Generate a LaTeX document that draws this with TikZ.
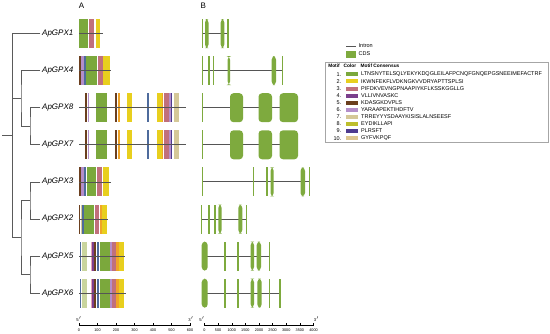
\documentclass[tikz,border=0pt]{standalone}
\usepackage{fontspec}
\setmainfont{Liberation Sans}
\definecolor{mA}{HTML}{7BA83C}
\definecolor{mB}{HTML}{E8CF1E}
\definecolor{mC}{HTML}{C0707C}
\definecolor{mD}{HTML}{7B3F8C}
\definecolor{mE}{HTML}{6B3F1E}
\definecolor{mF}{HTML}{B48ECA}
\definecolor{mG}{HTML}{D5C898}
\definecolor{mH}{HTML}{BDBE2C}
\definecolor{mI}{HTML}{4E3B8E}
\definecolor{mJ}{HTML}{DDC68F}
\definecolor{slate}{HTML}{4E6B9C}
\definecolor{orng}{HTML}{F0A428}
\definecolor{pale}{HTML}{C9D59E}
\definecolor{pinkl}{HTML}{E3A3B5}
\definecolor{exonc}{HTML}{7EAA3E}
\definecolor{linec}{HTML}{555555}
\definecolor{treec}{HTML}{5A5A5A}
\newcommand\mt[4]{\fill[#1] ({#2},{#4-14.5}) rectangle ({#3},{#4+14.5});}
\newcommand\pl[3]{\draw[prot] ({#1},{#3}) -- ({#2},{#3});}
\newcommand\ex[3]{\fill[exonc] ({#1},{#3-14.5}) rectangle ({#2},{#3+14.5});}
\newcommand\exr[3]{\fill[exonc,rounded corners=3.5pt] ({#1},{#3-14.5}) rectangle ({#2},{#3+14.5});}
\newcommand\intr[3]{\draw[introncol] ({#1},{#3}) -- ({#2},{#3});}
\begin{document}
\begin{tikzpicture}[x=1pt,y=-1pt,
  lbl/.style={font=\fontsize{8}{9}\selectfont\itshape, anchor=east, inner sep=0pt},
  head/.style={font=\fontsize{8}{9}\selectfont, inner sep=0pt},
  tree/.style={draw=treec, line width=0.7pt},
  prot/.style={draw=linec, line width=0.8pt},
  introncol/.style={draw=linec, line width=0.9pt},
  axisline/.style={draw=black, line width=0.5pt},
  ticklbl/.style={font=\fontsize{3.8}{4}\selectfont, inner sep=0pt},
  endlbl/.style={font=\fontsize{4.2}{4.5}\selectfont, inner sep=0pt},
  legtxt/.style={font=\fontsize{5.5}{6}\selectfont, inner sep=0pt, anchor=west},
  leghead/.style={font=\fontsize{4.8}{5}\selectfont\bfseries, inner sep=0pt},
  legnum/.style={font=\fontsize{5.5}{6}\selectfont, inner sep=0pt, anchor=east}]
\useasboundingbox[fill=white] (0,0) rectangle (550,333);

% headings
\node[head] (hA) at (81.5,5.5) {A};
\node[head] (hB) at (203.3,5.8) {B};

% gene labels
\node[lbl] (g1) at (73.5,33.5) {ApGPX1};
\node[lbl] (g4) at (73.5,70.6) {ApGPX4};
\node[lbl] (g8) at (73.5,107.7) {ApGPX8};
\node[lbl] (g7) at (73.5,144.8) {ApGPX7};
\node[lbl] (g3) at (73.5,181.9) {ApGPX3};
\node[lbl] (g2) at (73.5,219) {ApGPX2};
\node[lbl] (g5) at (73.5,256.1) {ApGPX5};
\node[lbl] (g6) at (73.5,293.2) {ApGPX6};

% tree
\coordinate (n87) at (30,126.25);
\coordinate (n4) at (21,98.4);
\coordinate (n32) at (30,200.45);
\coordinate (n56) at (30,274.65);
\coordinate (nb) at (21,237.55);
\coordinate (rt) at (2,135.5);
\coordinate (rj) at (12,135.5);
\coordinate (tj) at (12,98.4);
\draw[tree] ([xshift=-1.5pt]g8.west) -| (n87) |- ([xshift=-1.5pt]g7.west);
\draw[tree] ([xshift=-1.5pt]g4.west) -| (n4) |- (n87);
\draw[tree] ([xshift=-1.5pt]g1.west) -| (12,237.55) -- (nb);
\draw[tree] (tj) -- (n4);
\draw[tree] ([xshift=-1.5pt]g3.west) -| (n32) |- ([xshift=-1.5pt]g2.west);
\draw[tree] ([xshift=-1.5pt]g5.west) -| (n56) |- ([xshift=-1.5pt]g6.west);
\draw[tree] (n32) -| (nb) |- (n56);
\draw[tree] (rt) -- (rj);

% ---------- Panel A: motifs ----------
% GPX1
\mt{mA}{79}{88}{33.5} \mt{mC}{89}{94.3}{33.5} \mt{mB}{95.7}{100}{33.5}
\pl{79}{103.3}{33.5}
% GPX4
\mt{mE}{79}{80.5}{70.6} \mt{mF}{81}{83.5}{70.6} \mt{slate}{84}{85.5}{70.6}
\mt{mA}{86}{96.5}{70.6} \mt{mC}{97.5}{102.5}{70.6} \mt{mB}{103}{110}{70.6}
\pl{79}{111}{70.6}
% GPX8 and GPX7
\foreach \yy in {107.7,144.8}{
  \mt{mE}{85}{86.7}{\yy} \mt{mF}{87.7}{89}{\yy} \mt{mA}{96.3}{106.7}{\yy}
  \mt{mE}{115}{116.7}{\yy} \mt{orng}{118.3}{120}{\yy} \mt{mB}{126.7}{131.7}{\yy}
  \mt{slate}{146.7}{149}{\yy} \mt{mB}{157}{161.7}{\yy} \mt{orng}{161.7}{162.6}{\yy}
  \mt{mC}{163.7}{169}{\yy} \mt{mF}{169.3}{170.7}{\yy} \mt{mI}{171}{172.3}{\yy}
  \mt{mG}{174}{179}{\yy}
  \pl{79}{186}{\yy}
}
% GPX3
\mt{mE}{79}{80.5}{181.9} \mt{mF}{81}{83.5}{181.9} \mt{slate}{84}{85.5}{181.9}
\mt{mA}{86.7}{95.7}{181.9} \mt{mC}{96.7}{101.7}{181.9} \mt{mB}{103.3}{109.3}{181.9}
\pl{79}{111}{181.9}
% GPX2
\mt{mE}{79}{80.3}{219} \mt{mG}{80.8}{82}{219} \mt{slate}{82.3}{83.7}{219}
\mt{mA}{84.3}{94.3}{219} \mt{mC}{95}{99}{219} \mt{orng}{99.7}{101.5}{219}
\mt{mB}{101.5}{107}{219}
\pl{79}{107.5}{219}
% GPX5 and GPX6
\foreach \yy/\ee in {256.1/125,293.2/126}{
  \mt{slate}{79.5}{80.5}{\yy} \mt{pale}{82}{87}{\yy} \mt{pinkl}{90.5}{91.8}{\yy}
  \mt{mD}{92}{94}{\yy} \mt{mE}{94.3}{95.7}{\yy} \mt{slate}{96.5}{98.5}{\yy}
  \mt{mA}{99.8}{110}{\yy} \mt{mF}{110.3}{111.7}{\yy} \mt{mC}{111.7}{115.7}{\yy}
  \mt{orng}{115.7}{118.5}{\yy} \mt{mB}{118.5}{123.5}{\yy}
  \pl{79}{\ee}{\yy}
}

% ---------- Panel B: gene structures ----------
% GPX1
\intr{202}{228}{33.5}
\ex{201.5}{203}{33.5} \exr{205}{208.5}{33.5} \exr{220.7}{224.3}{33.5} \ex{227}{228.5}{33.5}
% GPX4
\intr{202}{283}{70.6}
\ex{201.7}{203}{70.6} \ex{208}{210}{70.6} \ex{212.7}{214.3}{70.6} \exr{227.7}{230}{70.6}
\exr{271.7}{276}{70.6} \ex{281.7}{283}{70.6}
% GPX8 and GPX7
\foreach \yy in {107.7,144.8}{
  \intr{202}{280}{\yy}
  \ex{201.5}{203.3}{\yy} \exr{230}{243}{\yy} \exr{258.5}{272}{\yy} \exr{279.5}{298}{\yy}
}
% GPX3
\intr{202}{310}{181.9}
\ex{201.5}{202.7}{181.9} \ex{252.5}{254.3}{181.9} \ex{266.2}{268}{181.9}
\exr{270.5}{273.7}{181.9} \exr{300.5}{305}{181.9} \ex{308.5}{310}{181.9}
% GPX2
\intr{201}{246.5}{219}
\ex{201}{202}{219} \ex{208.3}{210}{219} \ex{214.3}{216}{219} \exr{218.3}{221.7}{219}
\exr{238.3}{242.3}{219} \ex{245.7}{247}{219}
% GPX5
\intr{202}{270}{256.1}
\exr{201.7}{207.7}{256.1} \ex{224.3}{226}{256.1} \ex{237.3}{239}{256.1}
\exr{250.7}{254}{256.1} \exr{256.7}{261}{256.1} \ex{268.7}{270}{256.1}
% GPX6
\intr{202}{280.5}{293.2}
\exr{201.7}{207.7}{293.2} \ex{224.3}{226}{293.2} \ex{237.3}{239}{293.2}
\exr{250.7}{254}{293.2} \exr{257.3}{261.7}{293.2} \ex{269}{270.3}{293.2}
\ex{279.3}{280.7}{293.2}

% ---------- axes ----------
\draw[axisline] (79,325) -- (190,325);
\foreach \i/\lab in {0/0,1/100,2/200,3/300,4/400,5/500,6/600}{
  \draw[axisline] ({79+\i*18.5},323.3) -- ({79+\i*18.5},326);
  \node[ticklbl] (ta\i) at ({79+\i*18.5},330.2) {\lab};
}
\node[endlbl] (a5) at (79,319.5) {5$'$};
\node[endlbl] (a3) at (191,319.5) {3$'$};

\draw[axisline] (204.5,325) -- (313.5,325);
\foreach \i/\lab in {0/0,1/500,2/1000,3/1500,4/2000,5/2500,6/3000,7/3500,8/4000}{
  \draw[axisline] ({204.5+\i*13.625},323.3) -- ({204.5+\i*13.625},326);
  \node[ticklbl] (tb\i) at ({204.5+\i*13.625},330.2) {\lab};
}
\node[endlbl] (b5) at (202,319.5) {5$'$};
\node[endlbl] (b3) at (316.5,319.5) {3$'$};

% ---------- legend ----------
\draw[draw=linec, line width=1pt] (346,46) -- (356,46);
\node[legtxt] (lint) at (358.5,46) {Intron};
\fill[exonc] (345.5,50.5) rectangle (356.3,57.5);
\node[legtxt] (lcds) at (358.5,54) {CDS};
\draw[draw=gray!70, line width=0.5pt] (325.5,62.5) rectangle (548.5,142.5);
\node[leghead] (hm) at (334,66) {Motif};
\node[leghead] (hc) at (350,66) {Color};
\node[leghead, anchor=west] (hs) at (360.5,66) {Motif Consensus};
\foreach \i/\c/\s in {1/mA/LTNSNYTELSQLYEKYKDQGLEILAFPCNQFGNQEPGSNEEIMEFACTRF,
  2/mB/IKWNFEKFLVDKNGKVVDRYAPTTSPLSI,
  3/mC/PIFDKVEVNGPNAAPIYKFLKSSKGGLLG,
  4/mD/VLLIVNVASKC,
  5/mE/KDASGKDVPLS,
  6/mF/YARAAPEKTIHDFTV,
  7/mG/TRREYYYSDAAYKISISLALNSEESF,
  8/mH/EYDIKLLAPI,
  9/mI/PLRSFT,
  10/mJ/GYFVKPQF}{
  \node[legnum] (ln\i) at (341.5,{74.3+(\i-1)*7.1}) {\i.};
  \fill[\c] (346,{74.3+(\i-1)*7.1-2}) rectangle (358.3,{74.3+(\i-1)*7.1+2});
  \node[legtxt] (ls\i) at (361,{74.3+(\i-1)*7.1}) {\s};
}
\end{tikzpicture}
\end{document}
